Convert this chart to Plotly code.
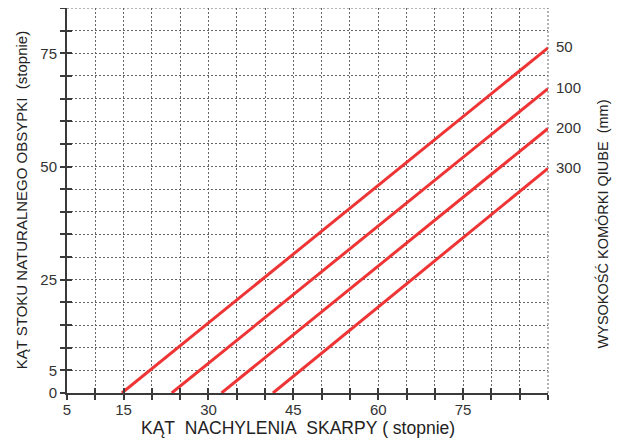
import plotly.graph_objects as go

# Data
heights = ["50", "100", "200", "300"]
x_start = [14.7, 23.5, 32.3, 41.4]
x_end = [90, 90, 90, 90]
y_start = [0, 0, 0, 0]
y_end = [76.2, 67.2, 58.4, 49.6]

x_grid = list(range(5, 91, 5))
y_grid = list(range(0, 86, 5))
x_labels = {5: "5", 15: "15", 30: "30", 45: "45", 60: "60", 75: "75"}
y_labels = {0: "0", 5: "5", 25: "25", 50: "50", 75: "75"}

FONT = "Arial, Liberation Sans, sans-serif"
RED = "#ee3434"
AX = "#3a3a3a"
GRID = "#666"
DOTS = "2px,2px"
NB = "\u00a0"

fig = go.Figure()
for name, xs, xe, ys, ye in zip(heights, x_start, x_end, y_start, y_end):
    fig.add_trace(go.Scatter(x=[xs, xe], y=[ys, ye], mode="lines",
                             line=dict(color=RED, width=3), name=name,
                             showlegend=False, hoverinfo="skip"))
    fig.add_annotation(x=xe, y=ye, text=name, showarrow=False, xanchor="left",
                       yanchor="middle", xshift=6, yshift=1,
                       font=dict(family=FONT, size=15, color="#333"))

# invisible trace on overlay axes
fig.add_trace(go.Scatter(x=[5], y=[0], xaxis="x2", yaxis="y2", mode="markers",
                         marker=dict(opacity=0), showlegend=False, hoverinfo="skip"))

common_grid = dict(showgrid=True, gridcolor=GRID, gridwidth=1, griddash=DOTS,
                   showline=True, linecolor=AX, linewidth=2, zeroline=False,
                   ticks="outside", ticklen=5, tickwidth=2, tickcolor=AX,
                   tickfont=dict(family=FONT, size=15, color="#333"))

fig.update_layout(
    width=621, height=436,
    margin=dict(l=59, r=81, t=0, b=51),
    paper_bgcolor="white", plot_bgcolor="white",
    xaxis=dict(range=[5, 90], tickmode="array", tickvals=x_grid,
               ticktext=[x_labels.get(v, "") for v in x_grid],
               ticklabelstandoff=-3, **common_grid),
    yaxis=dict(range=[0, 85], tickmode="array", tickvals=y_grid,
               ticktext=[y_labels.get(v, "") for v in y_grid], **common_grid),
    xaxis2=dict(overlaying="x", matches="x", range=[5, 90], tickmode="array",
                tickvals=x_grid, showticklabels=False, showgrid=False,
                zeroline=False, showline=False, ticks="inside", ticklen=5,
                tickwidth=2, tickcolor=AX, side="bottom", anchor="y2"),
    yaxis2=dict(overlaying="y", matches="y", range=[0, 85], tickmode="array",
                tickvals=y_grid, showticklabels=False, showgrid=False,
                zeroline=False, showline=False, ticks="inside", ticklen=5,
                tickwidth=2, tickcolor=AX, side="left", anchor="x2"),
    showlegend=False,
)

# outer dotted frame (top and right)
fig.add_shape(type="line", xref="x domain", yref="y domain", x0=0, x1=1, y0=1, y1=1,
              line=dict(color=GRID, width=1, dash=DOTS), layer="below")
fig.add_shape(type="line", xref="x domain", yref="y domain", x0=1, x1=1, y0=0, y1=1,
              line=dict(color=GRID, width=1, dash=DOTS), layer="below")

fig.add_annotation(xref="paper", yref="paper", x=-0.094, y=0.5,
                   xanchor="center", yanchor="middle",
                   text="KĄT STOKU NATURALNEGO OBSYPKI" + NB + NB + "(stopnie)", textangle=-90,
                   showarrow=False, font=dict(family=FONT, size=15, color="#222"))
fig.add_annotation(xref="paper", yref="paper", x=1.114, y=0.44,
                   xanchor="center", yanchor="middle",
                   text="WYSOKOŚĆ KOMÓRKI QIUBE" + NB + NB + "(mm)", textangle=-90,
                   showarrow=False, font=dict(family=FONT, size=14.5, color="#222"))
fig.add_annotation(xref="paper", yref="paper", x=0.48, y=-0.091,
                   xanchor="center", yanchor="middle",
                   text="KĄT" + NB + NB + "NACHYLENIA" + NB + NB + "SKARPY" + NB + "(" + NB + "stopnie)",
                   showarrow=False, font=dict(family=FONT, size=17.5, color="#222"))

fig.write_html("out.html")
